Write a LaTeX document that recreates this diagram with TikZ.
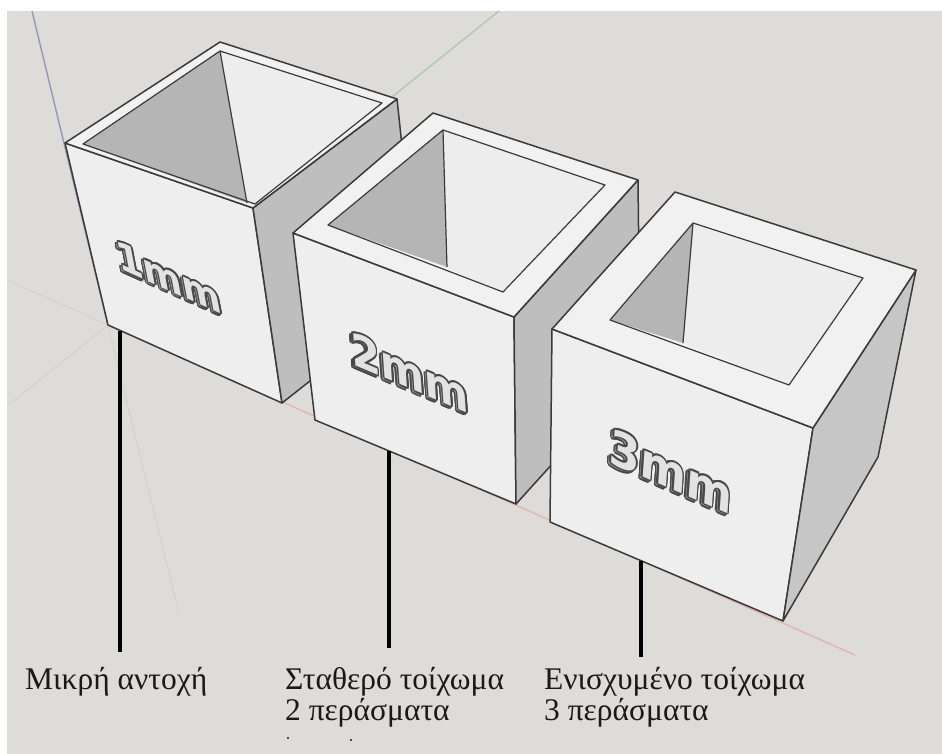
\documentclass[tikz,border=0pt]{standalone}
\usepackage{fontspec}
\setmainfont{Liberation Serif}
\newfontfamily\embfont{DejaVu Sans}

\definecolor{bgcol}{RGB}{221,220,216}
\definecolor{facecol}{RGB}{238,238,238}
\definecolor{rimcol}{RGB}{241,241,241}
\definecolor{sidecol}{RGB}{190,190,190}
\definecolor{sidecolb}{RGB}{198,198,198}
\definecolor{innerdark}{RGB}{181,181,181}
\definecolor{innerlight}{RGB}{237,237,237}
\definecolor{edgecol}{RGB}{58,58,58}
\definecolor{axblue}{RGB}{150,150,192}
\definecolor{axgreen}{RGB}{172,204,172}
\definecolor{axred}{RGB}{226,180,180}
\definecolor{axfaint}{RGB}{210,209,205}
\definecolor{embout}{RGB}{72,72,72}
\definecolor{embshade}{RGB}{140,140,140}
\definecolor{embfill}{RGB}{226,226,226}
\definecolor{captext}{RGB}{25,25,25}

\tikzset{
  edge/.style={draw=edgecol, line width=1.5pt, line join=round},
  innerline/.style={draw=edgecol, line width=1.2pt, line join=round},
  leader/.style={line width=4pt, black},
  caption/.style={anchor=base west, inner sep=0pt, text=captext,
    font=\fontsize{31.5}{36}\selectfont},
  emb/.style={transform shape, inner sep=0pt,
    font=\embfont\bfseries\fontsize{#1}{#1}\selectfont},
  axis/.style={line width=1.4pt},
}

% embossed label on a cube face: name prefix, size, text
\newcommand\embosslabel[3]{%
  \foreach \a in {0,30,...,330}
    \node[emb=#2, text=embout] (#1s\a) at ({-2.6+1.7*cos(\a)},{2.6+1.7*sin(\a)}) {#3};
  \node[emb=#2, text=embshade] (#1sh) at (-2.6,2.6) {#3};
  \foreach \a in {0,30,...,330}
    \node[emb=#2, text=embout] (#1o\a) at ({1.7*cos(\a)},{1.7*sin(\a)}) {#3};
  \node[emb=#2, text=embfill] (#1f) at (0,0) {#3};
}

\begin{document}
\begin{tikzpicture}[x=1pt,y=-1pt]
\useasboundingbox (0,0) rectangle (942,754);
\fill[white] (0,0) rectangle (942,754);
\fill[bgcol] (7,11) rectangle (942,754);

% ---- axes of the modelling scene
\coordinate (O) at (108,325);
\draw[axis, axblue] (32,11) -- (O);
\draw[axis, axgreen] (499,11) -- (O);
\draw[axis, axred] (O) -- (855,655);
\draw[line width=1pt, axfaint] (O) -- (7,280);
\draw[line width=1pt, axfaint] (O) -- (7,406);
\draw[line width=1pt, axfaint] (O) -- (178,610);

% ---- cube 1 (1mm wall)
\coordinate (L1) at (65,143);  \coordinate (B1) at (220,42);
\coordinate (R1) at (397,99);  \coordinate (F1) at (253,208);
\coordinate (BL1) at (108,325); \coordinate (BF1) at (282,403);
\coordinate (BR1) at (418,296);
\coordinate (iL1) at (83,144); \coordinate (iB1) at (220,51);
\coordinate (iR1) at (382,103); \coordinate (iF1) at (255,204);
\coordinate (iD1) at (247,203);
\filldraw[fill=facecol, edge] (L1) -- (F1) -- (BF1) -- (BL1) -- cycle;
\filldraw[fill=sidecol, edge] (F1) -- (R1) -- (BR1) -- (BF1) -- cycle;
\filldraw[fill=rimcol, edge] (L1) -- (B1) -- (R1) -- (F1) -- cycle;
\fill[innerdark] (iL1) -- (iB1) -- (iD1) -- cycle;
\fill[innerlight] (iB1) -- (iR1) -- (iF1) -- (iD1) -- cycle;
\draw[innerline] (iL1) -- (iB1) -- (iR1) -- (iF1) -- cycle;
\draw[innerline] (iB1) -- (iD1);
\begin{scope}[shift={(169,277)}, cm={0.913,-0.409,-0.19,0.98,(0,0)}]
  \embosslabel{ea}{41}{1mm}
\end{scope}

% ---- cube 2 (2mm wall)
\coordinate (L2) at (293,233);  \coordinate (B2) at (433,113);
\coordinate (R2) at (638,180);  \coordinate (F2) at (514,317);
\coordinate (BL2) at (315,420); \coordinate (BF2) at (516,504);
\coordinate (BR2) at (640,367);
\coordinate (iL2) at (328,225); \coordinate (iB2) at (443,130);
\coordinate (iR2) at (605,185); \coordinate (iF2) at (503,292);
\coordinate (iD2) at (447,267);
\filldraw[fill=facecol, edge] (L2) -- (F2) -- (BF2) -- (BL2) -- cycle;
\filldraw[fill=sidecol, edge] (F2) -- (R2) -- (BR2) -- (BF2) -- cycle;
\filldraw[fill=rimcol, edge] (L2) -- (B2) -- (R2) -- (F2) -- cycle;
\fill[innerdark] (iL2) -- (iB2) -- (iD2) -- cycle;
\fill[innerlight] (iB2) -- (iR2) -- (iF2) -- (iD2) -- cycle;
\draw[innerline] (iL2) -- (iB2) -- (iR2) -- (iF2) -- cycle;
\draw[innerline] (iB2) -- (iD2);
\begin{scope}[shift={(410,372)}, cm={0.922,-0.388,-0.07,1,(0,0)}]
  \embosslabel{eb}{46}{2mm}
\end{scope}

% ---- cube 3 (3mm wall)
\coordinate (L3) at (552,329);  \coordinate (B3) at (675,192);
\coordinate (R3) at (916,270);  \coordinate (F3) at (813,428);
\coordinate (BL3) at (550,522); \coordinate (BF3) at (783,621);
\coordinate (BR3) at (878,457);
\coordinate (iL3) at (610,320); \coordinate (iB3) at (693,223);
\coordinate (iR3) at (863,278); \coordinate (iF3) at (789,385);
\coordinate (iD3) at (683,343);
\filldraw[fill=facecol, edge] (L3) -- (F3) -- (BF3) -- (BL3) -- cycle;
\filldraw[fill=sidecolb, edge] (F3) -- (R3) -- (BR3) -- (BF3) -- cycle;
\filldraw[fill=rimcol, edge] (L3) -- (B3) -- (R3) -- (F3) -- cycle;
\fill[innerdark] (iL3) -- (iB3) -- (iD3) -- cycle;
\fill[innerlight] (iB3) -- (iR3) -- (iF3) -- (iD3) -- cycle;
\draw[innerline] (iL3) -- (iB3) -- (iR3) -- (iF3) -- cycle;
\draw[innerline] (iB3) -- (iD3);
\begin{scope}[shift={(671,471)}, cm={0.918,-0.396,0.07,1,(0,0)}]
  \embosslabel{ec}{48}{3mm}
\end{scope}

% ---- leader lines and captions
\coordinate (t1) at (120,331); \coordinate (b1) at (120,652);
\coordinate (t2) at (389,451); \coordinate (b2) at (389,648);
\coordinate (t3) at (641,561); \coordinate (b3) at (641,657);
\draw[leader] (t1) -- (b1);
\draw[leader] (t2) -- (b2);
\draw[leader] (t3) -- (b3);

\node[caption] (lab1) at (25,689) {Μικρή αντοχή};
\node[caption] (lab2a) at (285,689) {Σταθερό τοίχωμα};
\node[caption] (lab2b) at (285,720) {2 περάσματα};
\node[caption] (lab3a) at (544,689) {Ενισχυμένο τοίχωμα};
\node[caption] (lab3b) at (544,720) {3 περάσματα};
\fill[captext] (288,738) circle (1.2);
\fill[captext] (351,740) circle (1.2);
\end{tikzpicture}
\end{document}
